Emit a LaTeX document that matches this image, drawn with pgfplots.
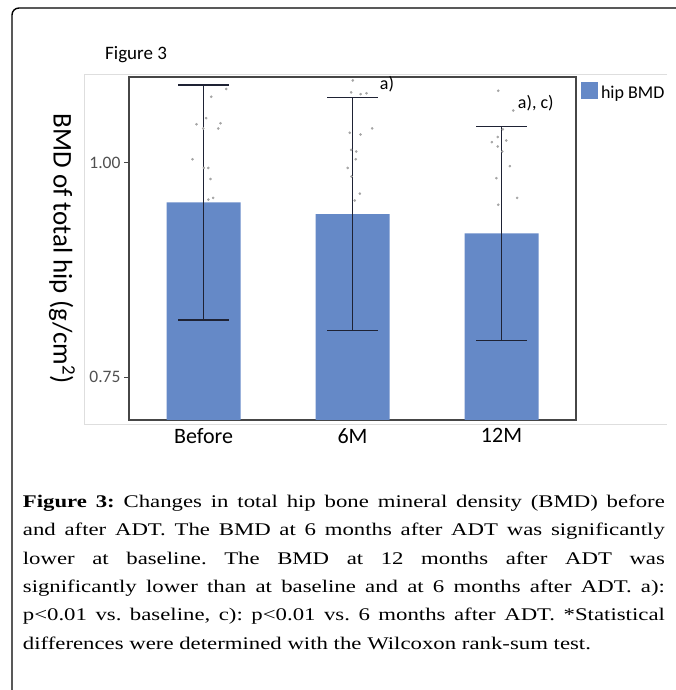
\documentclass[border=0pt]{standalone}
\usepackage{pgfplots}
\pgfplotsset{compat=1.18}
\usepackage{fontspec}
\setmainfont{Liberation Serif}
\newfontfamily\capfont{Liberation Serif}[FakeStretch=1.28]
\newfontfamily\chartfont{Carlito}
\definecolor{barblue}{RGB}{101,137,199}
\definecolor{errcol}{RGB}{30,34,52}
\definecolor{dotgray}{RGB}{165,165,165}
\definecolor{tickgray}{RGB}{80,80,80}
\definecolor{axisgray}{RGB}{70,70,70}
\definecolor{framegray}{RGB}{222,222,222}
\pgfplotstableread{
x y e
0 0.9537 0.1370
1 0.9400 0.1360
2 0.9175 0.1245
}\bartable
\pgfplotstableread{
x y
0.152 1.086
0.052 1.077
0.018 1.052
-0.047 1.045
0.114 1.046
-0.002 1.040
0.099 1.040
-0.074 1.004
0.002 0.994
0.032 0.994
0.047 0.981
0.065 0.959
0.032 0.957
1.002 1.096
0.991 1.082
1.054 1.080
1.094 1.081
1.132 1.040
0.982 1.035
1.054 1.033
0.991 1.015
1.025 1.013
1.022 1.004
0.968 0.994
0.993 0.984
1.049 0.964
1.015 0.956
1.978 1.084
2.079 1.061
2.009 1.039
1.975 1.030
2.032 1.026
1.935 1.024
1.975 1.019
2.005 1.013
2.056 0.996
1.966 0.982
2.105 0.959
1.978 0.951
}\dottable
\begin{document}
\begin{tikzpicture}[x=1pt,y=1pt]
\path[use as bounding box] (0,0) rectangle (676,690);
\draw[line width=1.4pt, rounded corners=7pt] (12,-2) -- (12,682) -- (678,682);
\draw[framegray, line width=0.8pt] (667,615.3) -- (84,615.3) -- (84,266) -- (667,266);
\node[anchor=base west, inner sep=0, font=\chartfont\fontsize{19}{22}\selectfont] at (105,630) {Figure 3};
\begin{axis}[
  at={(129pt,270pt)}, anchor=south west,
  scale only axis, width=447pt, height=343pt,
  xmin=-0.5, xmax=2.5, ymin=0.70, ymax=1.10,
  axis line style={axisgray, line width=1.2pt},
  xtick={0,1,2}, xticklabels={Before,6M,12M},
  ytick={0.75,1.00}, yticklabels={0.75,1.00},
  tick align=outside, major tick length=5pt,
  tick pos=left,
  xtick style={draw=none},
  ytick style={axisgray, line width=1pt},
  xticklabel style={font=\chartfont\fontsize{22}{26}\selectfont, text=black},
  yticklabel style={font=\chartfont\fontsize{17.5}{20}\selectfont, text=tickgray},
  ylabel={BMD of total hip (g/cm\textsuperscript{2})},
  ylabel style={font=\chartfont\fontsize{27}{30}\selectfont, rotate=180, at={(axis description cs:-0.1499,0.5)}, anchor=center},
  clip=false,
  legend style={at={(axis description cs:1.0112,0.9854)}, anchor=north west, draw=none, fill=none, inner sep=0pt, outer sep=0pt, font=\chartfont\fontsize{18}{21}\selectfont, nodes={inner sep=0pt}},
  legend cell align=left,
]
\addplot[ybar, bar width=74pt, fill=barblue, draw=none,
  legend image code/.code={\fill[barblue] (0pt,-5.8pt) rectangle (17pt,11.2pt); \path (20pt,0pt);},
  error bars/.cd, y dir=both, y explicit,
  error bar style={errcol, line width=1.2pt},
  error mark options={rotate=90, errcol, mark size=25.3pt, line width=1.2pt}]
  table[x=x, y=y, y error=e] {\bartable};
\addlegendentry{hip BMD}
\addplot[only marks, mark=*, mark size=1.1pt, dotgray, forget plot] table[x=x, y=y] {\dottable};
\node[anchor=base west, inner sep=0, font=\chartfont\fontsize{18}{21}\selectfont] at (axis cs:1.183,1.0859) {a)};
\node[anchor=base west, inner sep=0, font=\chartfont\fontsize{18}{21}\selectfont] at (axis cs:2.109,1.0627) {a), c)};
\end{axis}
\node[anchor=north west, inner sep=0, text width=642pt, align=justify, font=\capfont\fontsize{17.8}{28.3}\selectfont] at (22.7,202.5) {\frenchspacing\tolerance=10000\hyphenpenalty=10000\strut\textbf{Figure 3:} Changes in total hip bone mineral density (BMD) before\linebreak and after ADT. The BMD at 6 months after ADT was significantly\linebreak lower at baseline. The BMD at 12 months after ADT was\linebreak significantly lower than at baseline and at 6 months after ADT. a):\linebreak p<0.01 vs. baseline, c): p<0.01 vs. 6 months after ADT. *Statistical\linebreak differences were determined with the Wilcoxon rank-sum test.};
\end{tikzpicture}
\end{document}
